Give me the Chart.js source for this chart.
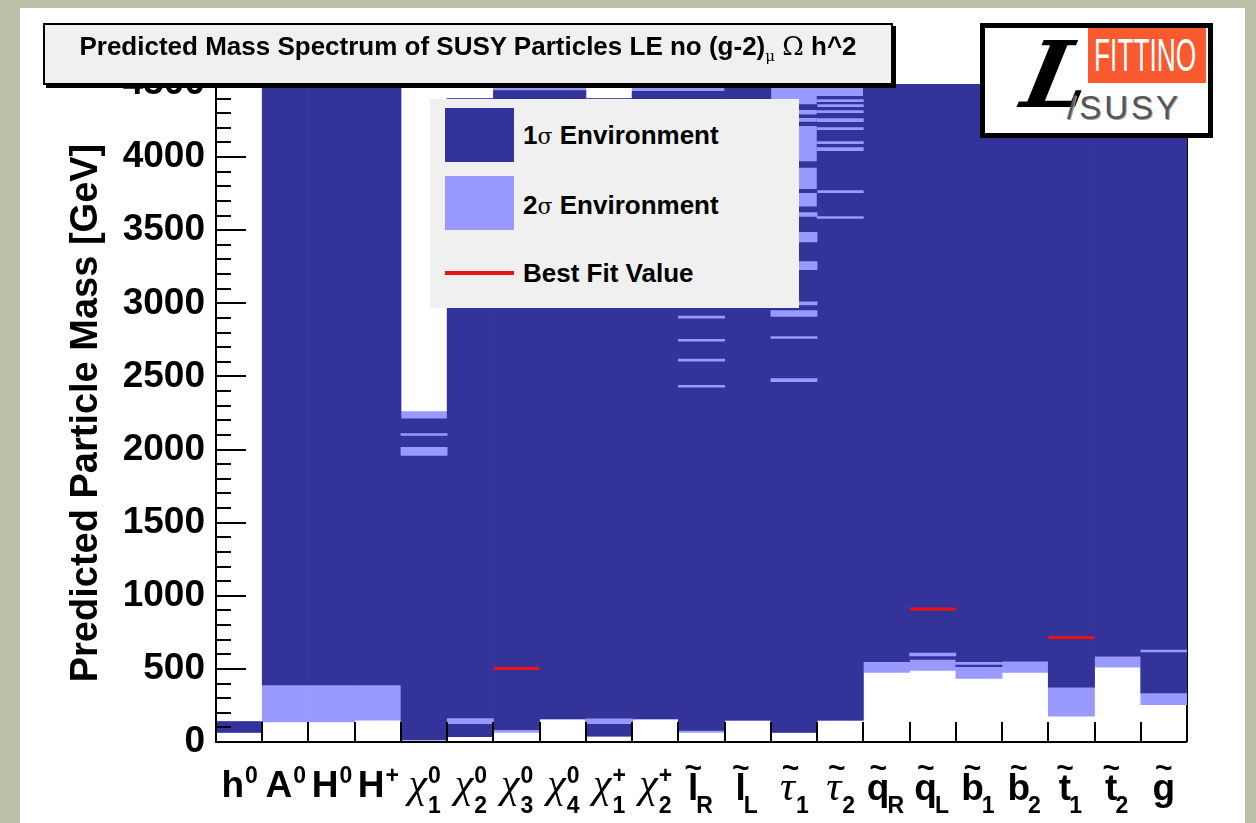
<!DOCTYPE html>
<html>
<head>
<meta charset="utf-8">
<script src="https://cdn.jsdelivr.net/npm/chart.js@4.4.1/dist/chart.umd.min.js"></script>
<style>
  html, body { margin: 0; padding: 0; }
  body { width: 1256px; height: 823px; background: #bbc0a7; position: relative; overflow: hidden;
         font-family: 'Liberation Sans', Arial, sans-serif; }
  #panel { position: absolute; left: 20px; top: 8px; width: 1225px; height: 815px; background: #fff; }
  #chart { position: absolute; left: 0; top: 0; }
  #titleBox { position: absolute; left: 43px; top: 23px; width: 850px; height: 62px; box-sizing: border-box;
              background: #f0f0f0; border: 2px solid #000; box-shadow: 3px 3px 0 #000; }
  #titleBox span.t { position: absolute; left: 0; right: 0; top: 8px; text-align: center; white-space: nowrap;
                     font-weight: bold; font-size: 26px; line-height: 26px; color: #000; }
  .sym { font-family: 'DejaVu Serif', 'Liberation Serif', serif; font-weight: normal; }
  #legend { position: absolute; left: 430px; top: 99px; width: 369px; height: 209px; background: #f0f0f0; }
  #legend .sw { position: absolute; left: 15px; width: 69px; height: 54px; }
  #legend .txt { position: absolute; left: 93px; font-weight: bold; font-size: 26px; line-height: 30px;
                 white-space: nowrap; color: #000; }
  #logo { position: absolute; left: 980px; top: 23px; width: 233px; height: 115px; box-sizing: border-box;
          border: 5px solid #000; background: #fff; overflow: hidden; }
  #logo .fit { position: absolute; left: 103px; top: 0px; width: 118px; height: 55px; background: #fa5a30; }
  #logo .fit span { position: absolute; left: 6px; top: 2px; color: #fff; font-size: 47px; line-height: 50px;
                    transform: scaleX(0.56); transform-origin: left top; white-space: nowrap; }
  #logo .L { position: absolute; left: 18px; top: -8px; font-family: 'DejaVu Serif', serif;
             font-weight: bold; font-size: 92px; line-height: 110px; color: #000;
             transform: skewX(-22deg); transform-origin: left bottom; }
  #logo .susy { position: absolute; left: 82px; top: 62px; font-size: 33px; line-height: 36px; color: #555;
                letter-spacing: 3px; text-shadow: 1px 1px 0 #999; }
</style>
</head>
<body>
<div id="panel"></div>
<canvas id="chart" width="1256" height="823"></canvas>

<div id="titleBox"><span class="t">Predicted Mass Spectrum of SUSY Particles LE no (g-2)<sub class="sym" style="font-size:15px">μ</sub> <span class="sym">Ω</span> h^2</span></div>

<div id="legend">
  <div class="sw" style="top:9px;background:#333399"></div>
  <div class="txt" style="top:21px">1<span class="sym" style="font-size:22px">σ</span> Environment</div>
  <div class="sw" style="top:77px;background:#9999ff"></div>
  <div class="txt" style="top:91px">2<span class="sym" style="font-size:22px">σ</span> Environment</div>
  <div class="sw" style="top:172px;height:4px;background:#ee1111"></div>
  <div class="txt" style="top:159px">Best Fit Value</div>
</div>

<div id="logo">
  <div class="fit"><span>FITTINO</span></div>
  <div class="L">L</div>
  <div class="susy">/SUSY</div>
</div>

<script>
// particle bins along the x axis
const categories = ['h0', 'A0', 'H0', 'H+', 'chi0_1', 'chi0_2', 'chi0_3', 'chi0_4', 'chi+_1', 'chi+_2',
                    'slep_R', 'slep_L', 'stau_1', 'stau_2', 'sq_R', 'sq_L', 'sb_1', 'sb_2', 'st_1', 'st_2', 'gluino'];
const labelMain = ['h', 'A', 'H', 'H', 'χ', 'χ', 'χ', 'χ', 'χ', 'χ', 'l', 'l', 'τ', 'τ', 'q', 'q', 'b', 'b', 't', 't', 'g'];
const labelSup  = ['0', '0', '0', '+', '0', '0', '0', '0', '+', '+', '', '', '', '', '', '', '', '', '', '', ''];
const labelSub  = ['', '', '', '', '1', '2', '3', '4', '1', '2', 'R', 'L', '1', '2', 'R', 'L', '1', '2', '1', '2', ''];

// mass ranges in GeV
const sigma2Low  = [65, 137, 137, 150, 15, 37, 66, 158, 40, 158, 66, 147, 65, 147, 475, 490, 434, 475, 176, 511, 256];
const sigma2High = [140, 4500, 4500, 4500, 2260, 4400, 4500, 4500, 4400, 4500, 4500, 4500, 4500, 4500, 4500, 4500, 4500, 4500, 4500, 4500, 4500];
const sigma1Low  = [65, 390, 390, 390, 15, 37, 85, 158, 40, 158, 80, 150, 65, 150, 549, 565, 550, 552, 375, 587, 336];
const sigma1High = [140, 4500, 4500, 4500, 2210, 4400, 4455, 4455, 4400, 4450, 4450, 4500, 3660, 4415, 4500, 4500, 4500, 4500, 4500, 4500, 4500];
const bestFit    = [null, null, null, null, null, null, 502, null, null, null, null, null, null, null, null, 910, null, null, 715, null, null];

// holes in the 1 sigma column that are only 2 sigma: [bin, low, high]
const lightSlices = [
    [4, 1960, 2015], [4, 2097, 2110],
    [5, 125, 160], [8, 126, 158],
    [10, 2427, 2440], [10, 2605, 2618], [10, 2741, 2754], [10, 2899, 2912],
    [12, 2465, 2485], [12, 2760, 2772], [12, 2910, 2950], [12, 2990, 3010], [12, 3230, 3285], [12, 3420, 3485], [12, 3595, 3620],
    [13, 3580, 3593], [13, 3757, 3771], [13, 4044, 4065], [13, 4092, 4106], [13, 4188, 4202], [13, 4243, 4263],
    [13, 4304, 4318], [13, 4345, 4359], [13, 4380, 4393],
    [15, 588, 608], [20, 616, 628]
];
// 1 sigma islands above the main 1 sigma column
const darkSlices = [
    [12, 3757, 3780], [12, 3930, 3970], [12, 4215, 4240], [12, 4270, 4290], [12, 4325, 4360],
    [16, 516, 526]
];

const DARK = '#333399';
const LIGHT = '#9999ff';
const RED = '#ee1111';
const SANS = '"Liberation Sans", Arial, sans-serif';

function bands(lo, hi) {
    return categories.map((c, i) => ({ x: c, y: [lo[i], hi[i]] }));
}
function slices(list) {
    return list.map(([i, lo, hi]) => ({ x: categories[i], y: [lo, hi] }));
}

// axis lines, inward ticks and particle names (ROOT look)
const rootAxes = {
    id: 'rootAxes',
    beforeDatasetsDraw(chart) {
        const { ctx, chartArea: a } = chart;
        ctx.save();
        ctx.strokeStyle = '#000';
        ctx.lineWidth = 2;
        ctx.beginPath();
        ctx.moveTo(a.right, a.top);
        ctx.lineTo(a.right, a.bottom);
        ctx.stroke();
        ctx.restore();
    },
    afterDatasetsDraw(chart) {
        const { ctx, chartArea: a } = chart;
        const x = chart.scales.x, y = chart.scales.y;
        ctx.save();
        ctx.strokeStyle = '#000';
        ctx.lineWidth = 2;
        ctx.beginPath();
        ctx.moveTo(a.left, a.top);
        ctx.lineTo(a.left, a.bottom);
        ctx.lineTo(a.right, a.bottom);
        for (let v = 0; v <= y.max; v += 100) {
            const py = Math.round(y.getPixelForValue(v));
            ctx.moveTo(a.left, py);
            ctx.lineTo(a.left + (v % 500 === 0 ? 30 : 15), py);
        }
        for (let i = 1; i < categories.length; i++) {
            const px = Math.round((x.getPixelForValue(i - 1) + x.getPixelForValue(i)) / 2);
            ctx.moveTo(px, a.bottom);
            ctx.lineTo(px, a.bottom - 20);
        }
        ctx.stroke();
        ctx.restore();
    },
    afterDraw(chart) {
        const { ctx } = chart;
        const x = chart.scales.x;
        ctx.save();
        ctx.fillStyle = '#000';
        ctx.textAlign = 'left';
        ctx.textBaseline = 'alphabetic';
        categories.forEach((c, i) => {
            const cx = x.getPixelForValue(i);
            const greek = labelMain[i] === 'χ' || labelMain[i] === 'τ';
            const mainFont = greek ? 'italic 42px "Liberation Serif", serif' : 'bold 37px ' + SANS;
            const smallFont = 'bold 23px ' + SANS;
            ctx.font = mainFont;
            const mw = ctx.measureText(labelMain[i]).width;
            ctx.font = smallFont;
            const sw = Math.max(ctx.measureText(labelSup[i]).width, ctx.measureText(labelSub[i]).width);
            const x0 = cx - (mw + sw) / 2;
            const base = i >= 10 ? 800 : 797;
            ctx.font = mainFont;
            ctx.fillText(labelMain[i], x0, base);
            ctx.font = smallFont;
            if (labelSup[i]) ctx.fillText(labelSup[i], x0 + mw + 1, 783);
            if (labelSub[i]) ctx.fillText(labelSub[i], x0 + mw + (greek ? 1 : -2), 813);
            if (i >= 10) {
                ctx.font = 'bold 30px ' + SANS;
                const tw = ctx.measureText('~').width;
                ctx.fillText('~', x0 + mw / 2 - tw / 2 + (greek ? 3 : 0), 778);
            }
        });
        ctx.restore();
    }
};

new Chart(document.getElementById('chart'), {
    type: 'bar',
    data: {
        labels: categories,
        datasets: [
            { label: '2σ Environment', data: bands(sigma2Low, sigma2High), backgroundColor: LIGHT, order: 5 },
            { label: '1σ Environment', data: bands(sigma1Low, sigma1High), backgroundColor: DARK, order: 4 },
            { label: '2σ slices', data: slices(lightSlices), backgroundColor: LIGHT, order: 3 },
            { label: '1σ slices', data: slices(darkSlices), backgroundColor: DARK, order: 2 },
            { type: 'line', label: 'Best Fit Value', data: bestFit, showLine: false, pointStyle: 'line',
              pointRadius: 23, pointHoverRadius: 23, borderWidth: 3, borderColor: RED, order: 1 }
        ]
    },
    options: {
        responsive: false,
        animation: false,
        events: [],
        devicePixelRatio: 1,
        layout: { autoPadding: false, padding: { left: 0, top: 84, right: 69, bottom: 0 } },
        datasets: { bar: { grouped: false, barPercentage: 1, categoryPercentage: 1, borderWidth: 0 } },
        plugins: { legend: { display: false }, tooltip: { enabled: false } },
        scales: {
            x: {
                ticks: { display: false },
                grid: { display: false, drawTicks: false },
                border: { display: false },
                afterFit: (scale) => { scale.height = 81; }
            },
            y: {
                min: 0,
                max: 4500,
                ticks: { stepSize: 500, padding: 11, color: '#000', font: { family: SANS, size: 37, weight: 'bold' },
                         callback: (v) => String(v) },
                grid: { display: false, drawTicks: false },
                border: { display: false },
                title: {
                    display: true,
                    text: 'Predicted Particle Mass [GeV]',
                    color: '#000',
                    font: { family: SANS, size: 38, weight: 'bold' },
                    padding: { top: 64, bottom: 0 }
                },
                afterFit: (scale) => { scale.width = 216; }
            }
        }
    },
    plugins: [rootAxes]
});
</script>
</body>
</html>
